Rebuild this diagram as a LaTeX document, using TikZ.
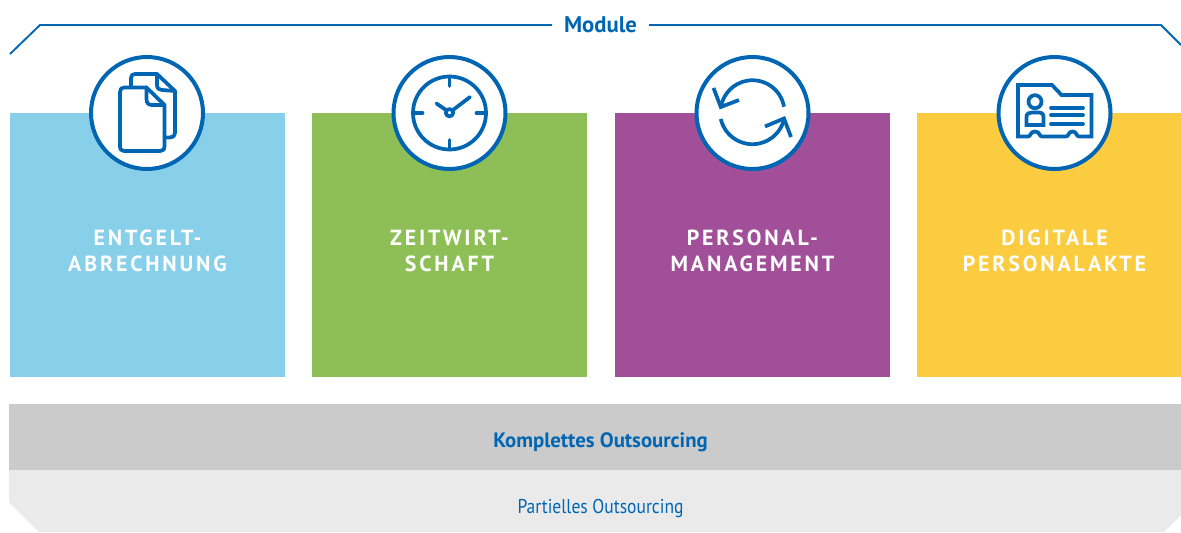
\documentclass[tikz,border=0pt]{standalone}
\usepackage{fontspec}
\setmainfont{PT Sans}
\newfontfamily\boxfont[LetterSpace=13]{PT Sans}
\newfontfamily\partfont[FakeStretch=0.875]{PT Sans}
\definecolor{bandblue}{HTML}{0066B3}
\definecolor{boxsky}{HTML}{88D0EA}
\definecolor{boxgreen}{HTML}{8DBF56}
\definecolor{boxpurple}{HTML}{A04F98}
\definecolor{boxyellow}{HTML}{FBCB40}
\definecolor{barfull}{HTML}{CBCBCB}
\definecolor{barpart}{HTML}{EAEAEA}

\begin{document}
\begin{tikzpicture}[x=0.75pt,y=-0.75pt,
    modbox/.style={anchor=north west, inner sep=0pt, minimum height=198pt, minimum width=206.25pt},
    modlabel/.style={text=white, align=center, font=\boxfont\bfseries\fontsize{16.4}{19.5}\selectfont},
    iconring/.style={circle, draw=bandblue, fill=white, line width=3pt, minimum size=84pt, inner sep=0pt},
    iconline/.style={draw=bandblue, line width=2.8pt, line cap=round, line join=round},
    bracket/.style={draw=bandblue, line width=1.4pt}]
  \useasboundingbox (0,0) rectangle (1181,532);

  % bars
  \fill[barpart] (9,470) -- (1181,470) -- (1181,515) -- (1164,532) -- (39,532) -- (9,502) -- cycle;
  \node[anchor=north west, inner sep=0pt, fill=barfull, minimum width=879pt, minimum height=49.5pt] (full) at (9,404) {};
  \node[text=bandblue, font=\bfseries\fontsize{15.6}{18}\selectfont] (fulltext) at (600.5,442) {Komplettes Outsourcing};
  \node[text=bandblue, font=\partfont\fontsize{15}{18}\selectfont] (parttext) at (600.5,508) {Partielles Outsourcing};

  % module bracket
  \node[text=bandblue, inner xsep=0pt, font=\bfseries\fontsize{17}{19}\selectfont] (module) at (600.5,25) {Module};
  \coordinate (leftend) at (10,54);
  \coordinate (leftbend) at (40,25);
  \coordinate (rightend) at (1181,45);
  \coordinate (rightbend) at (1161,25);
  \coordinate (leftstart) at (552,25);
  \coordinate (rightstart) at (649,25);
  \draw[bracket] (leftstart) -- (leftbend) -- (leftend);
  \draw[bracket] (rightstart) -- (rightbend) -- (rightend);

  % boxes
  \node[modbox, fill=boxsky] (lohn) at (10,113) {};
  \node[modbox, fill=boxgreen] (zeit) at (312,113) {};
  \node[modbox, fill=boxpurple] (personal) at (615,113) {};
  \node[modbox, fill=boxyellow, minimum width=198pt] (akte) at (917,113) {};

  \node[modlabel] (lohntext) at (147.5,251) {ENTGELT-\\ABRECHNUNG};
  \node[modlabel] (zeittext) at (449.5,251) {ZEITWIRT-\\SCHAFT};
  \node[modlabel] (personaltext) at (752.5,251) {PERSONAL-\\MANAGEMENT};
  \node[modlabel] (aktetext) at (1054.5,251) {DIGITALE\\PERSONALAKTE};

  % rings
  \node[iconring] (lohnring) at (147,113) {};
  \node[iconring] (zeitring) at (449.5,113) {};
  \node[iconring] (personalring) at (752.5,113) {};
  \node[iconring] (aktering) at (1054.5,113) {};

  % documents
  \draw[iconline] (131,87) -- (131,78) .. controls (131,75.5) and (132.5,74) .. (135,74) -- (157,74) -- (175,91) -- (175,133)
    .. controls (175,136) and (173,137.5) .. (170,137.5) -- (164.5,137.5);
  \draw[iconline] (157,74) -- (157,85) .. controls (157,88.5) and (159,90) .. (162,90) -- (175,91);
  \draw[iconline] (124,87.5) -- (146.5,87.5) -- (164.5,105) -- (164.5,146) .. controls (164.5,149.5) and (163,151) .. (160,151)
    -- (124,151) .. controls (121.5,151) and (120,149.5) .. (120,146) -- (120,92) .. controls (120,89) and (121.5,87.5) .. (124,87.5);
  \draw[iconline] (146.5,87.5) -- (146.5,99) .. controls (146.5,103) and (148.5,105) .. (152,105) -- (164.5,105);

  % clock
  \draw[iconline] (449.5,113) circle[radius=36.5];
  \draw[iconline] (449.5,112.7) circle[radius=3.7];
  \foreach \dx/\dy in {0/-1,0/1,-1/0,1/0}
    \draw[iconline] ({449.5+36*\dx},{113+36*\dy}) -- ({449.5+27*\dx},{113+27*\dy});
  \draw[iconline] (453,110) -- (470,97);
  \draw[iconline] (446,110) -- (436.5,103.5);

  % refresh
  \draw[iconline, line cap=butt] (784,106.7) arc[start angle=-10, end angle=-170, radius=32];
  \draw[iconline, line cap=butt] (720.8,119) arc[start angle=167, end angle=13, radius=32.5];
  \draw[iconline, line cap=butt, line join=miter] (713.5,88) -- (720.8,107) -- (739,100);
  \draw[iconline, line cap=butt, line join=miter] (765,126.5) -- (784,118.5) -- (791,137);

  % id card
  \draw[iconline, line join=miter, line cap=butt] (1018,85) -- (1052,85) -- (1061.5,95) -- (1091.5,95) -- (1091.5,136.5) -- (1079,136.5)
    .. controls (1076,136.5) and (1077,131.5) .. (1072.5,131.5) .. controls (1068,131.5) and (1069,136.5) .. (1066,136.5) -- (1042,136.5)
    .. controls (1039,136.5) and (1040,131.5) .. (1035,131.5) .. controls (1030,131.5) and (1031,136.5) .. (1028,136.5) -- (1018,136.5) -- cycle;
  \draw[iconline] (1035,101.7) circle[radius=6.5];
  \draw[iconline, line join=miter] (1026.5,125) -- (1026.5,117) .. controls (1026.5,113.5) and (1029,112.5) .. (1032,112.5) -- (1038,112.5)
    .. controls (1041.5,112.5) and (1043.5,113.5) .. (1043.5,117) -- (1043.5,125) -- cycle;
  \foreach \ly in {107.7,115.3,124}
    \draw[iconline] (1051,\ly) -- (1083,\ly);
\end{tikzpicture}
\end{document}
